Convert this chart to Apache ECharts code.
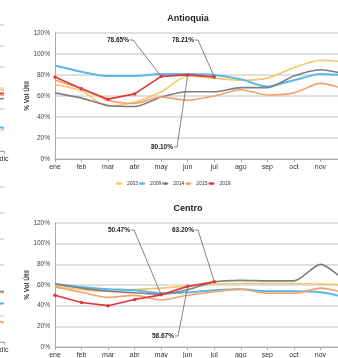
<!DOCTYPE html>
<html><head><meta charset="utf-8">
<script src="https://cdn.jsdelivr.net/npm/echarts@6/dist/echarts.min.js"></script>
<style>html,body{margin:0;padding:0;background:#fff;overflow:hidden}#c{width:338px;height:358px}</style>
</head><body><div id="c"></div>
<script>
// ---- data ----
const months = ['ene','feb','mar','abr','may','jun','jul','ago','sep','oct','nov','dic'];
const years = ['2003','2009','2014','2015','2019'];
const yTickMin = 0, yTickMax = 120, yTickStep = 20;

const antioquia2003 = [71, 65, 50, 54, 64, 79, 77, 75, 77, 87, 94, 92.5];
const antioquia2009 = [89, 83, 79, 79, 81, 81, 80, 76, 69, 75, 81, 79.5];
const antioquia2014 = [63, 58, 51, 50, 59, 64, 64, 68, 68, 79, 85, 80.5];
const antioquia2015 = [75, 67, 56, 53, 59, 56, 60, 66, 61, 63, 72, 66];
const antioquia2019 = [78, 67, 57, 62, 78.65, 80.10, 78.21];

const centro2003 = [59, 55.5, 54, 55.5, 57, 59, 61, 61.5, 61.5, 61.5, 61, 60];
const centro2009 = [61, 58, 56, 55, 52, 53, 55, 56, 54, 54, 53, 48];
const centro2014 = [61, 57, 54, 52.5, 51, 55.5, 63, 64.5, 64, 64, 80, 62];
const centro2015 = [58, 53, 48, 50, 45.5, 50, 53.5, 56, 52, 52, 57, 52];
const centro2019 = [50, 43, 40, 46, 50.47, 58.67, 63.20];

// fragments of neighbouring panels (only nov-dic visible)
const leftTop2003 = [null,null,null,null,null,null,null,null,null,null,62,58];
const leftTop2009 = [null,null,null,null,null,null,null,null,null,null,26,22];
const leftTop2014 = [null,null,null,null,null,null,null,null,null,null,48,50];
const leftTop2015 = [null,null,null,null,null,null,null,null,null,null,58,53];
const leftTop2019 = [null,null,null,null,null,null,null,null,null,null,54,55];
const leftBot2003 = [null,null,null,null,null,null,null,null,null,null,40,38];
const leftBot2009 = [null,null,null,null,null,null,null,null,null,null,28,30];
const leftBot2014 = [null,null,null,null,null,null,null,null,null,null,40,39];
const leftBot2015 = [null,null,null,null,null,null,null,null,null,null,20,15];

// annotated points: [month index, value]
const antioquiaNotes = [[4, antioquia2019[4]], [6, antioquia2019[6]], [5, antioquia2019[5]]];
const centroNotes = [[4, centro2019[4]], [6, centro2019[6]], [5, centro2019[5]]];

// ---- styles / layout ----
const colors = ['#F7C66A', '#5CB8E4', '#7F7F7F', '#F2A26C', '#E2363B'];
const FONT = '"Liberation Sans", Arial, sans-serif';
const chart = echarts.init(document.getElementById('c'), null, {renderer: 'canvas'});

function xAxis(gi) {
  return {
    type: 'category', gridIndex: gi, data: months, boundaryGap: false,
    axisLine: {lineStyle: {color: '#aaa', width: 1}},
    axisTick: {show: true, alignWithLabel: true, length: 3, lineStyle: {color: '#aaa'}},
    axisLabel: {fontSize: 7, color: '#333', margin: 5, fontFamily: FONT, interval: 0, hideOverlap: false}
  };
}
function yAxis(gi, main) {
  return {
    type: 'value', gridIndex: gi, min: yTickMin, max: yTickMax, interval: yTickStep,
    name: main ? '% Vol Útil' : '', nameLocation: 'middle', nameRotate: 90, nameGap: 24,
    nameMoveOverlap: false,
    nameTextStyle: {fontSize: 6.5, fontWeight: 'bold', color: '#333', fontFamily: FONT},
    axisLine: {show: true, lineStyle: {color: '#aaa'}},
    axisTick: {show: false},
    axisLabel: {show: main, fontSize: 6.5, color: '#444', margin: 5, formatter: '{value}%', fontFamily: FONT},
    splitLine: {lineStyle: {color: '#d6d6d6', width: 1.6}}
  };
}
function mk(name, data, gi, ci) {
  const isRed = name === '2019';
  return {
    name, type: 'line', xAxisIndex: gi, yAxisIndex: gi, data,
    smooth: isRed ? false : 0.25, connectNulls: false,
    symbol: isRed ? 'circle' : 'none', symbolSize: 3.5, showSymbol: isRed,
    lineStyle: {color: colors[ci], width: ci === 1 ? 2 : 1.6},
    itemStyle: {color: colors[ci]},
    emphasis: {disabled: true}, z: isRed ? 5 : 3, animation: false
  };
}

const gb = {outerBoundsMode: 'none', containLabel: false};
const grids = [
  Object.assign({left: 55, right: -9, top: 33, bottom: 199}, gb),
  Object.assign({left: 55, right: -9, top: 223, bottom: 11}, gb),
  Object.assign({left: -300, right: 334, top: 25, bottom: 207}, gb),
  Object.assign({left: -300, right: 334, top: 187, bottom: 16}, gb)
];

const series = [
  mk('2003', antioquia2003, 0, 0), mk('2009', antioquia2009, 0, 1), mk('2014', antioquia2014, 0, 2),
  mk('2015', antioquia2015, 0, 3), mk('2019', antioquia2019, 0, 4),
  mk('2003', centro2003, 1, 0), mk('2009', centro2009, 1, 1), mk('2014', centro2014, 1, 2),
  mk('2015', centro2015, 1, 3), mk('2019', centro2019, 1, 4),
  mk('2003', leftTop2003, 2, 0), mk('2009', leftTop2009, 2, 1), mk('2014', leftTop2014, 2, 2),
  mk('2015', leftTop2015, 2, 3), mk('2019', leftTop2019, 2, 4),
  mk('2003', leftBot2003, 3, 0), mk('2009', leftBot2009, 3, 1), mk('2014', leftBot2014, 3, 2),
  mk('2015', leftBot2015, 3, 3)
];
series[14].showSymbol = false;

chart.setOption({
  animation: false,
  backgroundColor: '#fff',
  grid: grids,
  xAxis: [xAxis(0), xAxis(1), xAxis(2), xAxis(3)],
  yAxis: [yAxis(0, true), yAxis(1, true), yAxis(2, false), yAxis(3, false)],
  legend: {
    data: years, left: 115, top: 181, itemWidth: 6, itemHeight: 4, itemGap: 0, padding: 0,
    textStyle: {fontSize: 5, color: '#333', fontFamily: FONT},
    selectedMode: false
  },
  series
});

// titles and callouts
const labelAnchors0 = [[133, 40], [198, 40], [177, 147]];
const labelAnchors1 = [[134, 230], [198, 230], [178, 336]];
const g = [
  {type: 'text', x: 188, y: 19, style: {text: 'Antioquia', align: 'center', verticalAlign: 'middle', font: 'bold 9px ' + FONT, fill: '#222'}},
  {type: 'text', x: 188, y: 209, style: {text: 'Centro', align: 'center', verticalAlign: 'middle', font: 'bold 9px ' + FONT, fill: '#222'}}
];
function callouts(gi, notes, anchors) {
  notes.forEach((n, i) => {
    const p = chart.convertToPixel({gridIndex: gi}, [n[0], n[1]]);
    const a = anchors[i];
    g.push({type: 'line', shape: {x1: a[0], y1: a[1], x2: p[0], y2: p[1]}, style: {stroke: '#666', lineWidth: 0.8}, z: 10});
    g.push({type: 'line', shape: {x1: a[0] - 3, y1: a[1], x2: a[0], y2: a[1]}, style: {stroke: '#666', lineWidth: 0.8}, z: 10});
    g.push({type: 'text', x: a[0] - 4, y: a[1], style: {text: n[1].toFixed(2) + '%', align: 'right', verticalAlign: 'middle', font: 'bold 6.5px ' + FONT, fill: '#222'}, z: 10});
  });
}
callouts(0, antioquiaNotes, labelAnchors0);
callouts(1, centroNotes, labelAnchors1);
chart.setOption({graphic: g});
</script></body></html>
